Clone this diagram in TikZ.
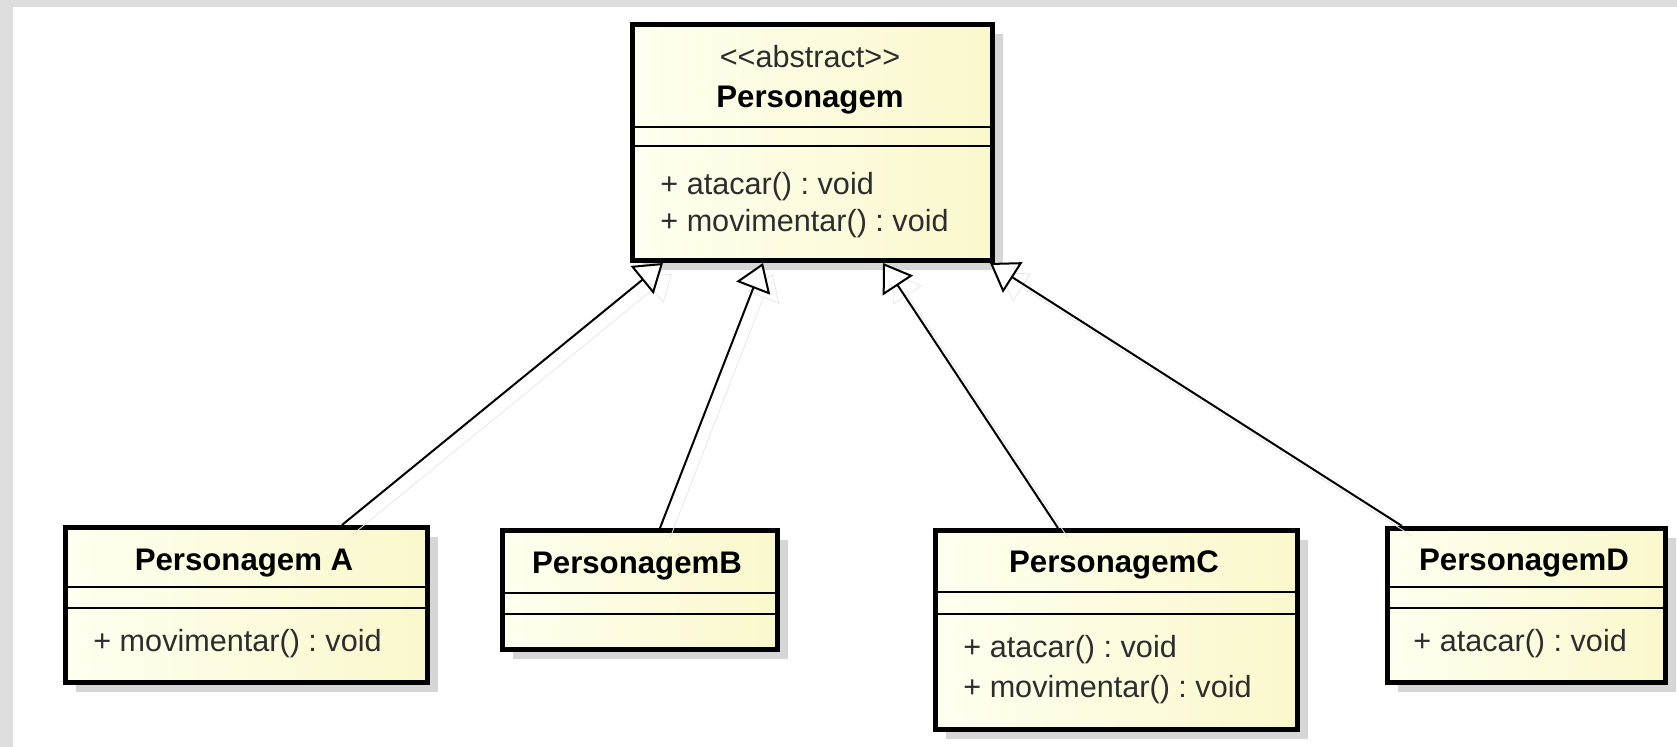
\documentclass[tikz,border=0pt]{standalone}
\usepackage{fontspec}
\setmainfont{Liberation Sans}
\usetikzlibrary{shadows,arrows.meta}
\frenchspacing
\definecolor{framegray}{RGB}{221,221,221}
\definecolor{shadowgray}{RGB}{214,214,214}
\definecolor{classleft}{RGB}{255,255,240}
\definecolor{classright}{RGB}{250,248,204}
\definecolor{textgray}{RGB}{45,45,45}
\tikzset{
  /tikz/.cd,
  umlclass/.style={draw,line width=2.5pt,left color=classleft,right color=classright,inner sep=0pt,anchor=north west,
    drop shadow={shadow xshift=5pt,shadow yshift=-5pt,fill=shadowgray,opacity=1}},
  classname/.style={font=\bfseries\fontsize{15.6}{18}\selectfont,inner sep=0pt,text height=11pt,text depth=3pt},
  member/.style={font=\fontsize{15.3}{18}\selectfont,text=textgray,inner sep=0pt,anchor=west,text height=11pt,text depth=3pt}
}

\begin{document}
\begin{tikzpicture}[x=0.5pt,y=-0.5pt,
                    sep/.style={line width=1pt},
                    inherit/.style={line width=1pt,-{Triangle[length=13.5pt,width=18pt,fill=white]},
                      preaction={draw=black!9,transform canvas={xshift=5pt,yshift=-5pt}}}]
      \useasboundingbox (0,0) rectangle (1677,747);
      \fill[framegray] (0,0) rectangle (1677,747);
      \fill[white] (13,7) rectangle (1677,747);

      \node[umlclass,minimum width=180pt,minimum height=118pt] (pers) at (630,22) {};
      \node[umlclass,minimum width=181pt,minimum height=77.5pt] (persA) at (63,525) {};
      \node[umlclass,minimum width=137.5pt,minimum height=59.5pt] (persB) at (500,528) {};
      \node[umlclass,minimum width=181pt,minimum height=99.5pt] (persC) at (933,528) {};
      \node[umlclass,minimum width=139pt,minimum height=77pt] (persD) at (1385,526) {};

      \node[member,anchor=center] (persStereo) at (810,60) {{<}{<}abstract{>}{>}};
      \node[classname] (persName) at (810,100) {Personagem};
      \draw[sep] (pers.west |- 0,127) -- (pers.east |- 0,127);
      \draw[sep] (pers.west |- 0,146) -- (pers.east |- 0,146);
      \node[member] (persAtacar) at (660,187) {+ atacar() : void};
      \node[member] (persMover) at (660,224) {+ movimentar() : void};

      \node[classname] (persAName) at (244,563) {Personagem A};
      \draw[sep] (persA.west |- 0,587) -- (persA.east |- 0,587);
      \draw[sep] (persA.west |- 0,608) -- (persA.east |- 0,608);
      \node[member] (persAMover) at (93,644) {+ movimentar() : void};

      \node[classname] (persBName) at (637,566) {PersonagemB};
      \draw[sep] (persB.west |- 0,593) -- (persB.east |- 0,593);
      \draw[sep] (persB.west |- 0,614) -- (persB.east |- 0,614);

      \node[classname] (persCName) at (1114,565) {PersonagemC};
      \draw[sep] (persC.west |- 0,592) -- (persC.east |- 0,592);
      \draw[sep] (persC.west |- 0,614) -- (persC.east |- 0,614);
      \node[member] (persCAtacar) at (963,650) {+ atacar() : void};
      \node[member] (persCMover) at (963,690) {+ movimentar() : void};

      \node[classname] (persDName) at (1524,563) {PersonagemD};
      \draw[sep] (persD.west |- 0,587) -- (persD.east |- 0,587);
      \draw[sep] (persD.west |- 0,608) -- (persD.east |- 0,608);
      \node[member] (persDAtacar) at (1413,644) {+ atacar() : void};

      \draw[inherit] (persA.north -| 342,0) -- (pers.south -| 663,0);
      \draw[inherit] (persB.north -| 660,0) -- (pers.south -| 763,0);
      \draw[inherit] (persC.north -| 1058,0) -- (pers.south -| 883,0);
      \draw[inherit] (persD.north -| 1402,0) -- (pers.south -| 990,0);
    \end{tikzpicture}
\end{document}
